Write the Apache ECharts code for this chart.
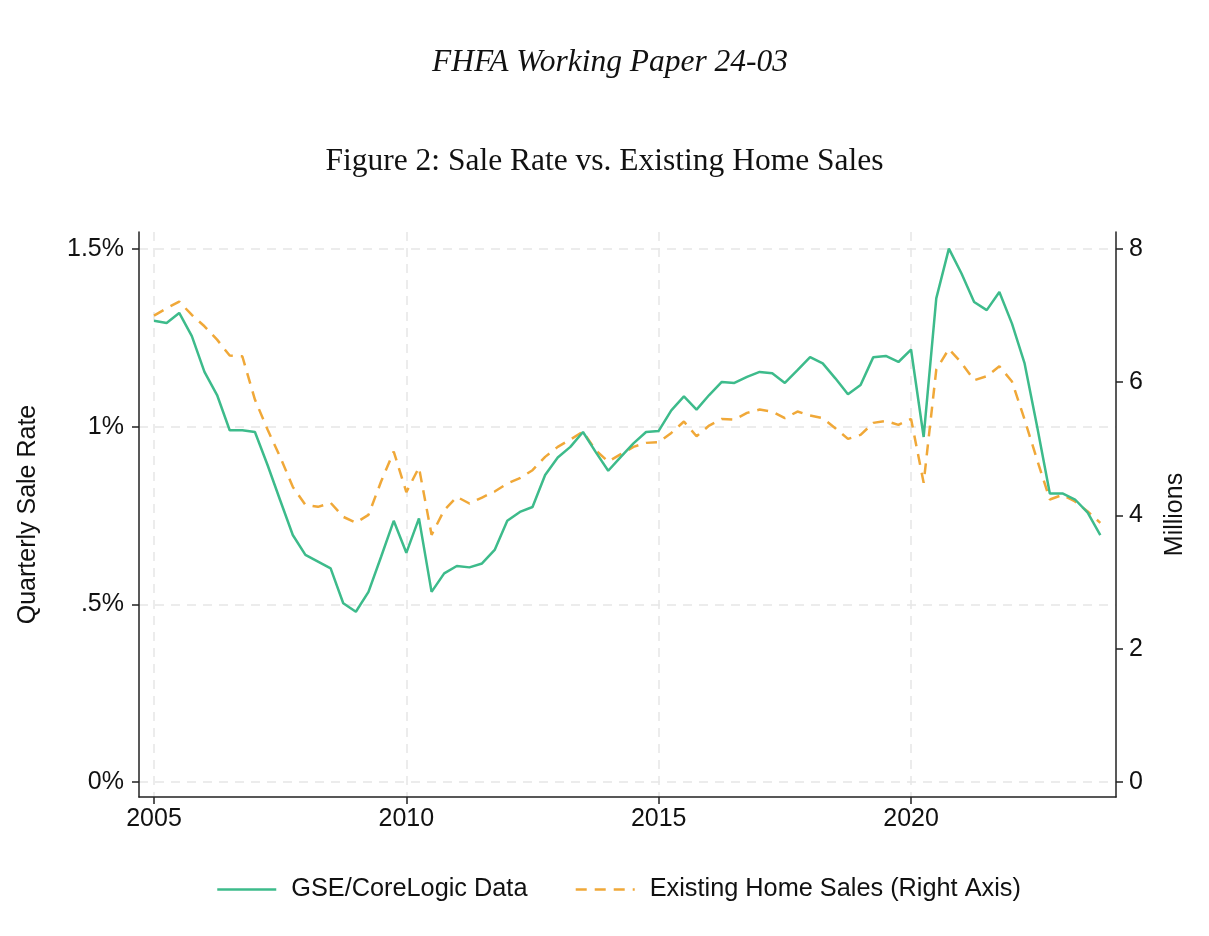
<!DOCTYPE html>
<html>
<head>
<meta charset="utf-8">
<title>Sale Rate vs. Existing Home Sales</title>
<script src="https://cdn.jsdelivr.net/npm/echarts@6/dist/echarts.min.js"></script>
<style>
  html, body { margin: 0; padding: 0; background: #fff; }
  #chart { width: 1209px; height: 936px; }
</style>
</head>
<body>
<div id="chart"></div>
<script>
// quarterly data, 2005Q1 - 2023Q4
var firstYear = 2005;
var lastYear = 2023;

// GSE/CoreLogic quarterly sale rate (%)
var saleRate = [
    1.298, 1.292, 1.320, 1.255, 1.154, 1.089, 0.990, 0.990,
    0.985, 0.892, 0.793, 0.695, 0.639, 0.620, 0.601, 0.503,
    0.479, 0.535, 0.634, 0.735, 0.645, 0.742, 0.535, 0.587,
    0.608, 0.604, 0.615, 0.653, 0.735, 0.760, 0.774, 0.864,
    0.913, 0.943, 0.985, 0.929, 0.876, 0.915, 0.953, 0.985,
    0.988, 1.046, 1.085, 1.048, 1.089, 1.126, 1.123, 1.140,
    1.154, 1.150, 1.123, 1.159, 1.196, 1.178, 1.136, 1.091,
    1.117, 1.195, 1.199, 1.182, 1.217, 0.971, 1.361, 1.501,
    1.431, 1.351, 1.328, 1.379, 1.290, 1.178, 0.999, 0.812,
    0.812, 0.795, 0.758, 0.695
];

// existing home sales, millions (right axis)
var homeSales = [
    7.00, 7.11, 7.21, 7.01, 6.84, 6.64, 6.40, 6.39,
    5.74, 5.29, 4.88, 4.43, 4.16, 4.13, 4.19, 3.98,
    3.89, 4.01, 4.51, 4.96, 4.35, 4.72, 3.71, 4.08,
    4.28, 4.18, 4.27, 4.36, 4.48, 4.56, 4.68, 4.88,
    5.03, 5.14, 5.26, 4.98, 4.81, 4.92, 5.03, 5.09,
    5.10, 5.24, 5.41, 5.19, 5.35, 5.45, 5.44, 5.54,
    5.59, 5.56, 5.46, 5.56, 5.50, 5.46, 5.31, 5.15,
    5.21, 5.39, 5.42, 5.36, 5.45, 4.49, 6.19, 6.50,
    6.29, 6.03, 6.09, 6.24, 6.01, 5.44, 4.83, 4.24,
    4.31, 4.21, 4.06, 3.89
];

var yearTicks = [2005, 2010, 2015, 2020];
var rateTicks = [0, 0.5, 1, 1.5];
var rateTickLabels = ['0%', '.5%', '1%', '1.5%'];
var salesTicks = [0, 2, 4, 6, 8];

// quarter -> decimal year (Q1 sits on the year itself)
var quarters = [];
for (var y = firstYear; y <= lastYear; y++) {
    for (var q = 1; q <= 4; q++) {
        quarters.push(y + (q - 1) / 4);
    }
}

var green = '#3dbb8b';
var orange = '#f0a838';
var gridColor = '#e6e6e6';
var sans = 'Liberation Sans, Arial, sans-serif';
var serif = 'Liberation Serif, Times New Roman, serif';
var labelSize = 25;

var dom = document.getElementById('chart');
var myChart = echarts.init(dom, null, {renderer: 'canvas'});

function axisBits(ticks) {
    return {
        axisLine: {show: true, onZero: false, lineStyle: {color: '#222', width: 1.5}},
        axisTick: {show: true, length: 7, customValues: ticks, lineStyle: {color: '#222', width: 1.5}},
        splitLine: {show: true, lineStyle: {color: gridColor, width: 1.5, type: [9, 7]}}
    };
}

var leftBits = axisBits(rateTicks);
var rightBits = axisBits(salesTicks);
var xBits = axisBits(yearTicks);

myChart.setOption({
    animation: false,
    backgroundColor: '#fff',
    title: [
        {
            text: 'FHFA Working Paper 24-03',
            left: 427,
            top: 42,
            textStyle: {fontFamily: serif, fontStyle: 'italic', fontWeight: 'normal', fontSize: 31.5, color: '#111'}
        },
        {
            text: 'Figure 2: Sale Rate vs. Existing Home Sales',
            left: 'center',
            top: 141,
            textStyle: {fontFamily: serif, fontWeight: 'normal', fontSize: 31.5, color: '#111'}
        }
    ],
    grid: {left: 139, right: 93, top: 232, bottom: 139, containLabel: false},
    legend: {
        bottom: 29,
        left: 211,
        itemWidth: 59,
        itemHeight: 14,
        itemGap: 47,
        itemStyle: {opacity: 0},
        lineStyle: {width: 2.5},
        textStyle: {fontFamily: sans, fontSize: 25.3, color: '#111', padding: [0, 0, 0, 10]},
        data: ['GSE/CoreLogic Data', 'Existing Home Sales (Right Axis)']
    },
    xAxis: {
        type: 'value',
        min: 2004.703,
        max: 2024.061,
        axisLine: xBits.axisLine,
        axisTick: xBits.axisTick,
        splitLine: xBits.splitLine,
        axisLabel: {
            customValues: yearTicks,
            margin: 10,
            fontFamily: sans, fontSize: labelSize, color: '#111',
            formatter: function (v) { return String(v); }
        }
    },
    yAxis: [
        {
            type: 'value',
            position: 'left',
            min: -0.0422,
            max: 1.5478,
            name: 'Quarterly Sale Rate',
            nameLocation: 'middle',
            nameRotate: 90,
            nameGap: 98,
            nameTextStyle: {fontFamily: sans, fontSize: labelSize, color: '#111'},
            axisLine: leftBits.axisLine,
            axisTick: leftBits.axisTick,
            splitLine: leftBits.splitLine,
            axisLabel: {
                customValues: rateTicks,
                margin: 15,
                fontFamily: sans, fontSize: labelSize, color: '#111',
                formatter: function (v) {
                    var i = rateTicks.indexOf(v);
                    return i >= 0 ? rateTickLabels[i] : '';
                }
            }
        },
        {
            type: 'value',
            position: 'right',
            min: -0.225,
            max: 8.255,
            name: 'Millions',
            nameLocation: 'middle',
            nameRotate: 90,
            nameGap: 47,
            nameTextStyle: {fontFamily: sans, fontSize: labelSize, color: '#111'},
            axisLine: rightBits.axisLine,
            axisTick: rightBits.axisTick,
            splitLine: {show: false},
            axisLabel: {
                customValues: salesTicks,
                margin: 13,
                fontFamily: sans, fontSize: labelSize, color: '#111'
            }
        }
    ],
    series: [
        {
            name: 'GSE/CoreLogic Data',
            type: 'line',
            yAxisIndex: 0,
            symbol: 'none',
            color: green,
            lineStyle: {color: green, width: 2.5},
            data: quarters.map(function (x, i) { return [x, saleRate[i]]; }),
            z: 3
        },
        {
            name: 'Existing Home Sales (Right Axis)',
            type: 'line',
            yAxisIndex: 1,
            symbol: 'none',
            color: orange,
            lineStyle: {color: orange, width: 2.5, type: [11, 8]},
            data: quarters.map(function (x, i) { return [x, homeSales[i]]; }),
            z: 2
        }
    ]
});
</script>
</body>
</html>
